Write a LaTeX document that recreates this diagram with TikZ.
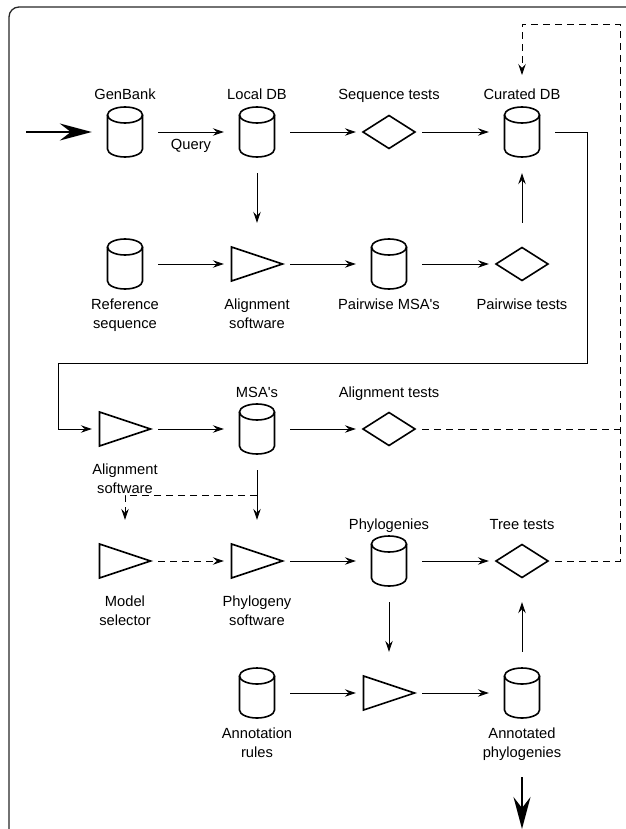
\documentclass[tikz,border=0pt]{standalone}
\usepackage{fontspec}
\setmainfont{Liberation Sans}
\usetikzlibrary{arrows.meta}
\newcommand\dbcyl[1]{\begin{scope}[shift={(#1.center)}]
  \draw[shp] (0,17) ellipse [x radius=17.5, y radius=8];
  \draw[shp] (-17.5,17) -- (-17.5,-17) arc[start angle=180, end angle=360, x radius=17.5, y radius=8] -- (17.5,17);
\end{scope}}
\newcommand\tritool[1]{\begin{scope}[shift={(#1.center)}]
  \draw[shp] (-25.5,17) -- (25.5,0) -- (-25.5,-17) -- cycle;
\end{scope}}
\newcommand\testdia[1]{\begin{scope}[shift={(#1.center)}]
  \draw[shp] (-26,0) -- (0,16.5) -- (26,0) -- (0,-16.5) -- cycle;
\end{scope}}
\tikzset{
  slot/.style={rectangle, minimum width=66pt, minimum height=82pt, inner sep=0pt},
  shp/.style={line width=1.6pt, line join=miter},
  conn/.style={line width=0.85pt, -{Stealth[length=11pt,width=7.5pt,inset=4pt]}},
  dashconn/.style={conn, dash pattern=on 7pt off 5pt},
  dashline/.style={line width=0.85pt, dash pattern=on 7pt off 5pt},
  bigarr/.style={line width=2pt, -{Stealth[length=32pt,width=17pt,inset=11pt]}},
  lbl/.style={font=\fontsize{14.7}{19}\selectfont, inner sep=0pt, anchor=base, align=center},
  frame/.style={line width=1.3pt, black!85},
}
\begin{document}
\begin{tikzpicture}[x=1pt,y=1pt]
\useasboundingbox (0,0) rectangle (625,-829);
% frame
\draw[frame, rounded corners=10pt] (9,-840) -- (9,-7) -- (640,-7);
% slots
\node[slot] (gen)  at (125,-132) {};
\node[slot] (loc)  at (257,-132) {};
\node[slot] (seqt) at (389,-132) {};
\node[slot] (cur)  at (522,-132) {};
\node[slot] (ref)  at (125,-264) {};
\node[slot] (aln1) at (257,-264) {};
\node[slot] (pms)  at (389,-264) {};
\node[slot] (pwt)  at (522,-264) {};
\node[slot] (aln2) at (125,-429) {};
\node[slot] (msa)  at (257,-429) {};
\node[slot] (alt)  at (389,-429) {};
\node[slot] (mod)  at (125,-561) {};
\node[slot] (phs)  at (257,-561) {};
\node[slot] (phy)  at (389,-561) {};
\node[slot] (trt)  at (522,-561) {};
\node[slot] (ann)  at (257,-693) {};
\node[slot] (tri)  at (389,-693) {};
\node[slot] (aph)  at (522,-693) {};
% shapes
\dbcyl{gen}\dbcyl{loc}\testdia{seqt}\dbcyl{cur}
\dbcyl{ref}\tritool{aln1}\dbcyl{pms}\testdia{pwt}
\tritool{aln2}\dbcyl{msa}\testdia{alt}
\tritool{mod}\tritool{phs}\dbcyl{phy}\testdia{trt}
\dbcyl{ann}\tritool{tri}\dbcyl{aph}
% labels
\node[lbl] (lgen) at (125,-100) {GenBank};
\node[lbl] (lloc) at (257,-100) {Local DB};
\node[lbl] (lseqt) at (389,-100) {Sequence tests};
\node[lbl] (lcur) at (522,-100) {Curated DB};
\node[lbl] (lquery) at (191,-150) {Query};
\node[lbl] (lref) at (125,-328) {Reference\\sequence};
\node[lbl] (laln1) at (257,-328) {Alignment\\software};
\node[lbl] (lpms) at (389,-309) {Pairwise MSA\textquotesingle s};
\node[lbl] (lpwt) at (522,-309) {Pairwise tests};
\node[lbl] (laln2) at (125,-493) {Alignment\\software};
\node[lbl] (lmsa) at (257,-397) {MSA\textquotesingle s};
\node[lbl] (lalt) at (389,-397) {Alignment tests};
\node[lbl] (lphy) at (389,-529) {Phylogenies};
\node[lbl] (ltrt) at (522,-529) {Tree tests};
\node[lbl] (lmod) at (125,-625) {Model\\selector};
\node[lbl] (lphs) at (257,-625) {Phylogeny\\software};
\node[lbl] (lann) at (257,-757) {Annotation\\rules};
\node[lbl] (laph) at (522,-757) {Annotated\\phylogenies};
% free-end coordinates
\coordinate (inS) at (26,-132);
\coordinate (loopR) at (587,-363);
\coordinate (loopL) at (58,-363);
\coordinate (topR) at (620,-24);
\coordinate (curin) at (522,-75);
\coordinate (br) at (257,-495);
\coordinate (outS) at (522,-777);
\coordinate (outE) at (522,-829);
% connectors
\draw[bigarr] (inS) -- (gen.west);
\draw[conn] (gen.east) -- (loc.west);
\draw[conn] (loc.east) -- (seqt.west);
\draw[conn] (seqt.east) -- (cur.west);
\draw[conn] (cur.east) -| (loopR) -- (loopL) |- (aln2.west);
\draw[conn] (loc.south) -- (aln1.north);
\draw[conn] (ref.east) -- (aln1.west);
\draw[conn] (aln1.east) -- (pms.west);
\draw[conn] (pms.east) -- (pwt.west);
\draw[conn] (pwt.north) -- (cur.south);
\draw[conn] (aln2.east) -- (msa.west);
\draw[conn] (msa.east) -- (alt.west);
\draw[dashline] (alt.east) -- (alt.east -| topR);
\draw[dashconn] (trt.east) -| (topR) -| (curin);
\draw[conn] (msa.south) -- (phs.north);
\draw[dashconn] (br) -| (mod.north);
\draw[dashconn] (mod.east) -- (phs.west);
\draw[conn] (phs.east) -- (phy.west);
\draw[conn] (phy.east) -- (trt.west);
\draw[conn] (phy.south) -- (tri.north);
\draw[conn] (ann.east) -- (tri.west);
\draw[conn] (tri.east) -- (aph.west);
\draw[conn] (aph.north) -- (trt.south);
\draw[bigarr] (outS) -- (outE);
\end{tikzpicture}
\end{document}
